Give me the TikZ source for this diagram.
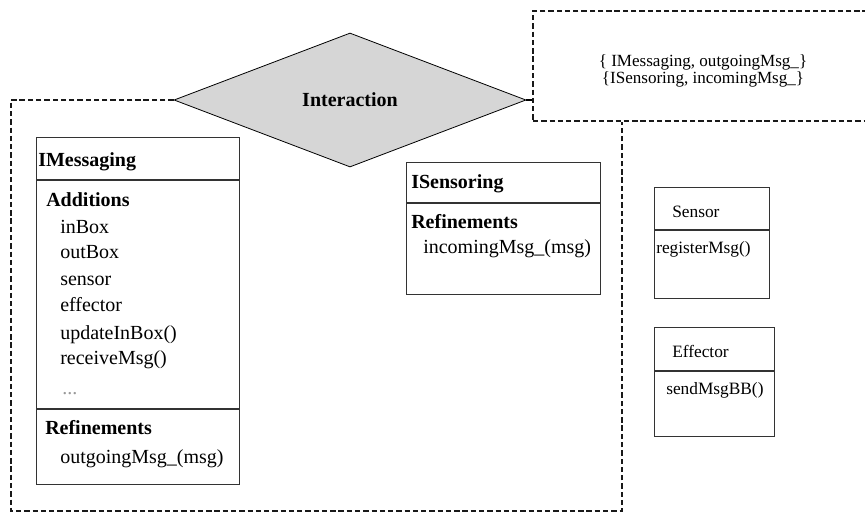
\documentclass[tikz,border=0pt]{standalone}
\usepackage{fontspec}
\setmainfont{Liberation Serif}
\usetikzlibrary{shapes.geometric}
\begin{document}
\begin{tikzpicture}[x=0.75pt,y=-0.75pt,
  dashline/.style={line width=1.5pt,dash pattern=on 4pt off 2.2pt,black!90},
  dashbox/.style={dashline,draw,rectangle,inner sep=0pt,anchor=north west},
  classbox/.style={draw=black!80,line width=0.9pt,rectangle,inner sep=0pt,anchor=north west},
  divider/.style={draw=black!80,line width=0.9pt},
  big/.style={inner sep=0pt,anchor=west,text height=10pt,text depth=0pt,font=\fontsize{15pt}{18pt}\selectfont},
  bigb/.style={big,font=\fontsize{15pt}{18pt}\selectfont\bfseries},
  small/.style={inner sep=0pt,anchor=west,text height=8.6pt,text depth=0pt,font=\fontsize{13pt}{15pt}\selectfont}]
\useasboundingbox (0,0) rectangle (865,515);

% interaction relation
\node[diamond,draw=black,line width=0.6pt,fill=black!16,inner sep=0pt,
      minimum width=264pt,minimum height=100.5pt,
      font=\fontsize{15pt}{18pt}\selectfont\bfseries] (ia) at (350,100) {Interaction};

% refinement pairs
\node[dashbox,minimum width=261pt,minimum height=82.5pt] (pairs) at (532,10) {};
\node[inner sep=0pt,align=center,font=\fontsize{12.8pt}{12.75pt}\selectfont] (pairtxt) at (703,71)
  {\{ IMessaging, outgoingMsg\_\}\\\{ISensoring, incomingMsg\_\}};

% feature boundary
\coordinate (ctl) at (11,100);
\coordinate (cbl) at (11,511);
\coordinate (cbr) at (622,511);
\draw[dashline] (ia.west) -- (ctl) -- (cbl) -- (cbr) -- (cbr |- pairs.south);
\draw[black,line width=0.8pt] (ia.east) -- (ia.east -| pairs.west);

% IMessaging
\node[classbox,minimum width=152.25pt,minimum height=260.25pt] (msg) at (36,137) {};
\draw[divider] (msg.west |- 0,180) -- (msg.east |- 0,180);
\draw[divider] (msg.west |- 0,409) -- (msg.east |- 0,409);
\node[bigb] (msgT) at (38,160) {IMessaging};
\node[bigb] (msgA) at (46,200) {Additions};
\node[big] (m1) at (60,227) {inBox};
\node[big] (m2) at (60,252) {outBox};
\node[big] (m3) at (60,279) {sensor};
\node[big] (m4) at (60,305) {effector};
\node[big] (m5) at (60,333) {updateInBox()};
\node[big] (m6) at (60,358) {receiveMsg()};
\node[big,text=black!40] (m7) at (62,388) {...};
\node[bigb] (msgR) at (45,428) {Refinements};
\node[big] (m8) at (60,457) {outgoingMsg\_(msg)};

% ISensoring
\node[classbox,minimum width=145.5pt,minimum height=99pt] (sens) at (406,162) {};
\draw[divider] (sens.west |- 0,203) -- (sens.east |- 0,203);
\node[bigb] (sensT) at (411,182) {ISensoring};
\node[bigb] (sensR) at (411,222) {Refinements};
\node[big] (s1) at (423,247) {incomingMsg\_(msg)};

% Sensor
\node[classbox,minimum width=86.25pt,minimum height=83.25pt] (sn) at (654,187) {};
\draw[divider] (sn.west |- 0,230) -- (sn.east |- 0,230);
\node[small] (snT) at (672,212) {Sensor};
\node[small] (sn1) at (656,248) {registerMsg()};

% Effector
\node[classbox,minimum width=90pt,minimum height=81.75pt] (ef) at (654,327) {};
\draw[divider] (ef.west |- 0,371) -- (ef.east |- 0,371);
\node[small] (efT) at (672,352) {Effector};
\node[small] (ef1) at (666,389) {sendMsgBB()};
\end{tikzpicture}
\end{document}
